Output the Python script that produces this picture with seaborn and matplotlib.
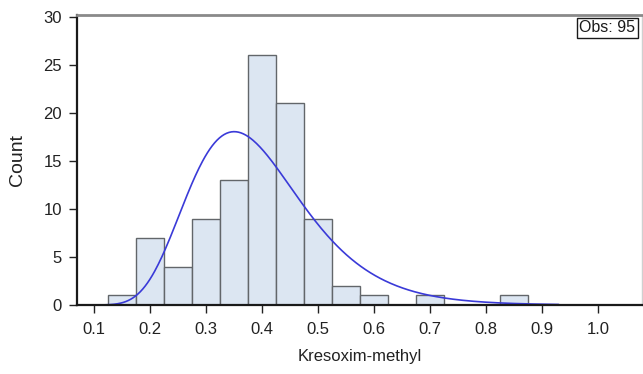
import numpy as np
import pandas as pd
import matplotlib
matplotlib.use("Agg")
import matplotlib.pyplot as plt
import seaborn as sns

# Histogram bins (width 0.05) and observed counts
bin_edges = [0.125, 0.175, 0.225, 0.275, 0.325, 0.375, 0.425, 0.475,
             0.525, 0.575, 0.625, 0.675, 0.725, 0.775, 0.825, 0.875]
bin_counts = [1, 7, 4, 9, 13, 26, 21, 9, 2, 1, 0, 1, 0, 0, 1]

# Fitted lognormal parameters for the density overlay
lognorm_mu = -0.967
lognorm_sigma = 0.288
curve_range = (0.075, 0.93)

x_ticks = [0.1, 0.2, 0.3, 0.4, 0.5, 0.6, 0.7, 0.8, 0.9, 1.0]
y_ticks = [0, 5, 10, 15, 20, 25, 30]

sns.set_theme(style="white")
plt.rcParams["font.family"] = ["Liberation Sans", "DejaVu Sans"]

edges = np.array(bin_edges)
centers = (edges[:-1] + edges[1:]) / 2
hist_df = pd.DataFrame({"value": centers, "count": bin_counts})

n_obs = int(np.sum(bin_counts))
bw = edges[1] - edges[0]
xs = np.linspace(curve_range[0], curve_range[1], 400)
pdf = np.exp(-(np.log(xs) - lognorm_mu) ** 2 / (2 * lognorm_sigma ** 2)) / (
    xs * lognorm_sigma * np.sqrt(2 * np.pi))
curve_df = pd.DataFrame({"x": xs, "y": pdf * n_obs * bw})

fig = plt.figure(figsize=(6.43, 3.74), dpi=100)
ax = fig.add_axes([0.1198, 0.1845, 0.8786, 0.7754])

sns.histplot(data=hist_df, x="value", weights="count", bins=list(bin_edges),
             color="#dce6f2", alpha=1.0, edgecolor="#62666a", linewidth=1.0,
             ax=ax)
sns.lineplot(data=curve_df, x="x", y="y", color="#3a3ad8", linewidth=1.2,
             ax=ax)

ax.set_xlim(0.0691, 1.079)
ax.set_ylim(0, 30.18)
ax.set_xticks(x_ticks)
ax.set_xticklabels([f"{t:.1f}" for t in x_ticks])
ax.set_yticks(y_ticks)
ax.set_yticklabels([str(t) for t in y_ticks])

ax.tick_params(axis="both", which="major", direction="out", length=6,
               width=1.0, color="#222222", labelsize=12, labelcolor="#222222",
               bottom=True, left=True)
ax.tick_params(axis="x", pad=6.5)
ax.tick_params(axis="y", pad=5)

ax.set_xlabel("Kresoxim-methyl", fontsize=12, color="#222222", labelpad=8.5)
ax.set_ylabel("Count", fontsize=14, color="#222222", labelpad=12.5)

for side in ["left", "bottom"]:
    ax.spines[side].set_color("#1a1a1a")
    ax.spines[side].set_linewidth(1.6)
ax.spines["top"].set_color("#8a8a8a")
ax.spines["top"].set_linewidth(2.0)
ax.spines["right"].set_color("#d0d0d0")
ax.spines["right"].set_linewidth(1.0)

ax.text(0.988, 0.982, "Obs: 95", transform=ax.transAxes, ha="right",
        va="top", fontsize=11.5, color="#1a1a1a",
        bbox=dict(boxstyle="square,pad=0.15", facecolor="white",
                  edgecolor="#1a1a1a", linewidth=1.0))

fig.savefig("out.png", dpi=100)
